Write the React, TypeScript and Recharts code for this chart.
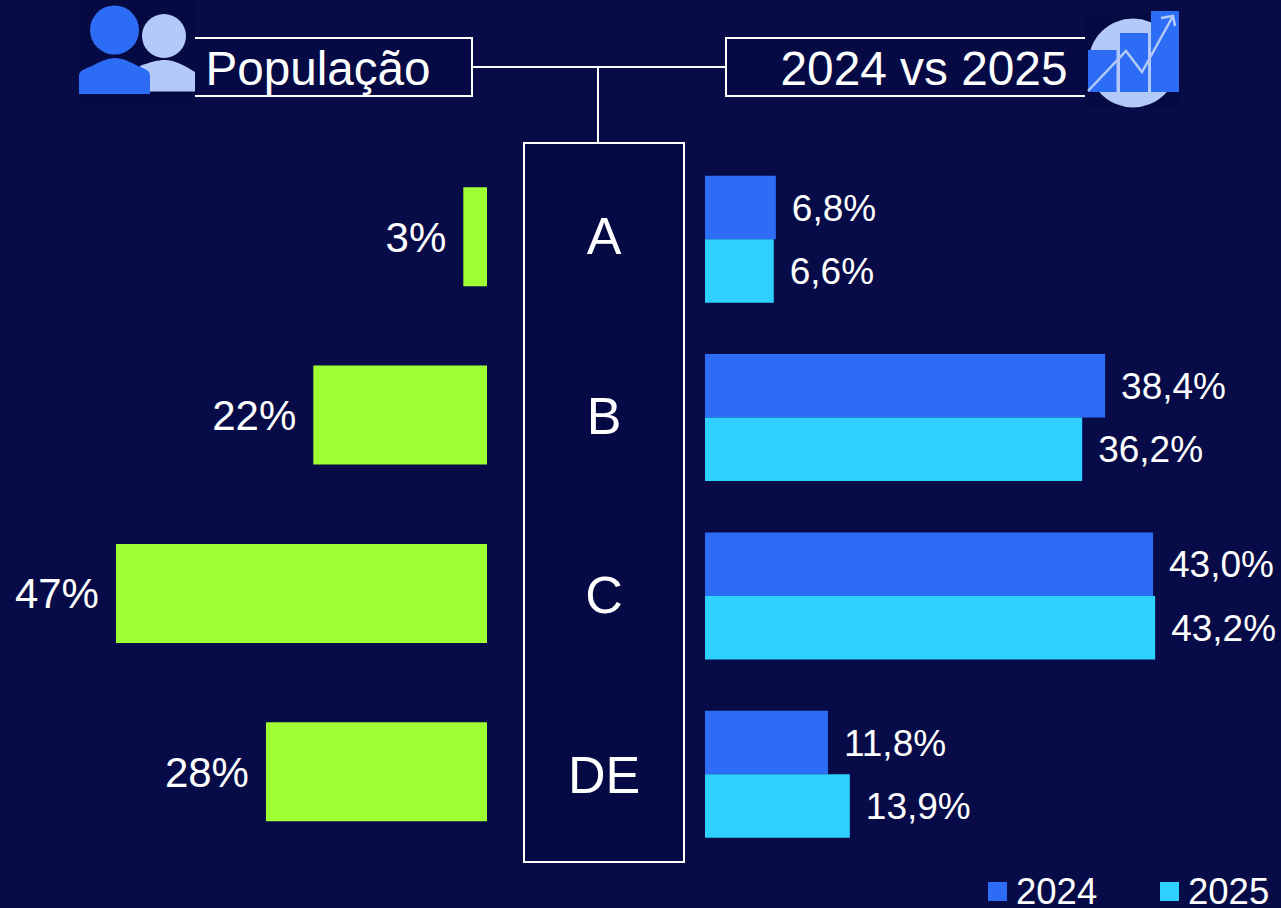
import { Bar, BarChart, LabelList, Legend, XAxis, YAxis } from "recharts";

const categories = ["A", "B", "C", "DE"];
const population = [3, 22, 47, 28];
const values2024 = [6.8, 38.4, 43.0, 11.8];
const values2025 = [6.6, 36.2, 43.2, 13.9];

const leftData = categories.map((name, i) => ({ name, population: population[i] }));
const rightData = categories.map((name, i) => ({
  name,
  "2024": values2024[i],
  "2025": values2025[i],
}));

const BG = "#070c48";
const BOX = "#050944";
const ICON_BG = "#060a43";
const FONT = "'Liberation Sans', Arial, sans-serif";
const BLUE = "#2d6df6";
const CYAN = "#2dd0ff";
const LIGHT = "#b3c9f8";
const GREEN = "#9eff33";

const pct = (v: any) => `${v}%`;
const pct1 = (v: any) => `${Number(v).toFixed(1).replace(".", ",")}%`;

// letters in the box are spaced a little wider than the bars
function CategoryTick({ x, y, index, payload }: any) {
  return (
    <text x={x + 109} y={y + 17.3 + index * 1.45} textAnchor="middle" fill="#fff" fontSize={52} fontFamily={FONT}>
      {payload.value}
    </text>
  );
}

function LegendRow({ payload }: any) {
  return (
    <div style={{ position: "relative", width: 293, height: 34 }}>
      {(payload || []).map((item: any, i: number) => (
        <div key={item.value} style={{ position: "absolute", left: i * 172, top: 0, height: 34 }}>
          <div style={{ position: "absolute", left: 0, top: 8, width: 19, height: 19, background: item.color }} />
          <span
            style={{
              position: "absolute",
              left: 28,
              top: 0,
              color: "#fff",
              fontSize: 36.5,
              lineHeight: "36px",
              fontFamily: FONT,
            }}
          >
            {item.value}
          </span>
        </div>
      ))}
    </div>
  );
}

function Frame() {
  return (
    <svg width={1281} height={908} style={{ position: "absolute", left: 0, top: 0 }}>
      <path d="M472 67H726M598 67V143" stroke="#fff" strokeWidth={2} fill="none" />
      <path d="M195 38H472V96H195" stroke="#fff" strokeWidth={2} fill={BOX} />
      <path d="M1085 38H726V96H1085" stroke="#fff" strokeWidth={2} fill={BOX} />
      <rect x={524} y={143} width={160} height={719} stroke="#fff" strokeWidth={2} fill={BOX} />
      <text x={205.5} y={85} fill="#fff" fontSize={47.6} fontFamily={FONT}>População</text>
      <text x={780.5} y={85} fill="#fff" fontSize={47.8} fontFamily={FONT}>2024 vs 2025</text>

      {/* people icon */}
      <rect x={79} y={0} width={116} height={107} fill={ICON_BG} />
      <circle cx={164} cy={36} r={22} fill={LIGHT} />
      <path d="M140 66C150 62 158 60 165 60C175 60 185 66 195 72V91.5H140Z" fill={LIGHT} />
      <circle cx={114.5} cy={30} r={24.5} fill={BLUE} />
      <path d="M79 94V76C79 70 85 69 92 66C100 62 107 58 115 58C123 58 130 62 138 66C145 69 150 70 150 76V94Z" fill={BLUE} />

      {/* chart icon */}
      <rect x={1085} y={10} width={96} height={98} fill={ICON_BG} />
      <circle cx={1133} cy={63} r={44.5} fill={LIGHT} />
      <rect x={1088} y={50} width={28.5} height={42} fill={BLUE} />
      <rect x={1120} y={33} width={28} height={59} fill={BLUE} />
      <rect x={1151} y={11} width={28} height={81} fill={BLUE} />
      <path d="M1088 91L1126 51L1142 72L1173 16M1161 18L1173 16L1175 26" stroke={LIGHT} strokeWidth={2.5} fill="none" />
    </svg>
  );
}

export default function App() {
  return (
    <div style={{ position: "absolute", left: 0, top: 0, width: 1281, height: 908, background: BG, overflow: "hidden" }}>
      <Frame />
      <div style={{ position: "absolute", left: 0, top: 0 }}>
        <BarChart
          width={684}
          height={908}
          layout="vertical"
          data={leftData}
          barSize={99}
          margin={{ top: 147.3, bottom: 47.5, left: 92.3, right: 0 }}
        >
          <XAxis type="number" hide reversed domain={[0, 50]} />
          <YAxis
            type="category"
            dataKey="name"
            orientation="right"
            width={197}
            axisLine={false}
            tickLine={false}
            tick={<CategoryTick />}
            interval={0}
          />
          <Bar dataKey="population" fill={GREEN} isAnimationActive={false}>
            <LabelList dataKey="population" position="right" offset={17} formatter={pct} fill="#fff" fontSize={42} fontFamily={FONT} />
          </Bar>
        </BarChart>
      </div>
      <div style={{ position: "absolute", left: 705, top: 0 }}>
        <BarChart
          width={576}
          height={908}
          layout="vertical"
          data={rightData}
          barSize={63.5}
          barGap={0}
          margin={{ top: 149.8, bottom: 11, left: 0, right: 0 }}
        >
          <XAxis type="number" hide domain={[0, 55.28]} />
          <YAxis type="category" dataKey="name" hide />
          <Legend
            content={<LegendRow />}
            wrapperStyle={{ left: 283, top: 874, width: 293, height: 34, bottom: "auto" }}
          />
          <Bar dataKey="2024" fill={BLUE} isAnimationActive={false}>
            <LabelList dataKey="2024" position="right" offset={16} formatter={pct1} fill="#fff" fontSize={37} fontFamily={FONT} />
          </Bar>
          <Bar dataKey="2025" fill={CYAN} isAnimationActive={false}>
            <LabelList dataKey="2025" position="right" offset={16} formatter={pct1} fill="#fff" fontSize={37} fontFamily={FONT} />
          </Bar>
        </BarChart>
      </div>
    </div>
  );
}
